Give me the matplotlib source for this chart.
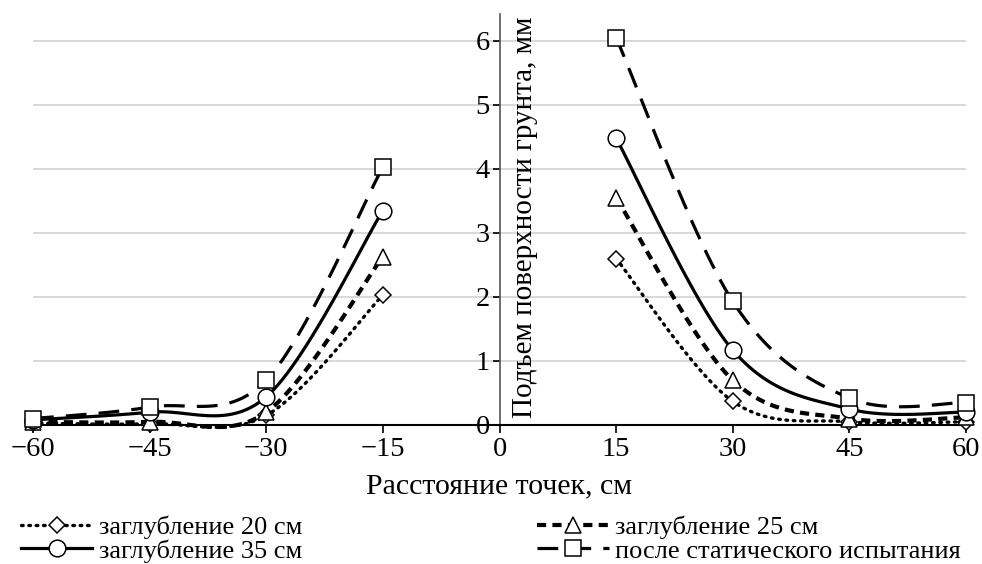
import numpy as np
import matplotlib
matplotlib.use("Agg")
import matplotlib.pyplot as plt

plt.rcParams['font.family'] = ['Liberation Serif', 'DejaVu Serif']

x_left = [-60, -45, -30, -15]
x_right = [15, 30, 45, 60]

d20_left = [0.03, 0.02, 0.15, 2.03]
d20_right = [2.6, 0.37, 0.05, 0.05]
d25_left = [0.05, 0.05, 0.2, 2.63]
d25_right = [3.55, 0.7, 0.1, 0.12]
d35_left = [0.08, 0.2, 0.44, 3.35]
d35_right = [4.48, 1.17, 0.25, 0.2]
st_left = [0.1, 0.28, 0.7, 4.03]
st_right = [6.05, 1.93, 0.42, 0.35]

labels = ['заглубление 20 см', 'заглубление 25 см',
          'заглубление 35 см', 'после статического испытания']
xticks = [-60, -45, -30, -15, 0, 15, 30, 45, 60]
yticks = [0, 1, 2, 3, 4, 5, 6]

K = 30  # points per segment of the smoothed line


def smooth(xs, ys):
    # Excel-like smoothed line: cubic Bezier through the points
    p = np.column_stack([xs, ys]).astype(float)
    ext = np.vstack([p[0], p, p[-1]])
    t = np.linspace(0, 1, K, endpoint=False)[:, None]
    out = []
    for i in range(len(p) - 1):
        p0, p3 = p[i], p[i + 1]
        p1 = p0 + (ext[i + 2] - ext[i]) / 6
        p2 = p3 - (ext[i + 3] - ext[i + 1]) / 6
        out.append((1 - t) ** 3 * p0 + 3 * (1 - t) ** 2 * t * p1
                   + 3 * (1 - t) * t ** 2 * p2 + t ** 3 * p3)
    out.append(p[-1][None, :])
    out = np.vstack(out)
    return out[:, 0], out[:, 1]


styles = [
    dict(ls=(0, (0.5, 1.7)), lw=2.4, marker='D', ms=8.5, cap='round'),
    dict(ls=(0, (2.2, 1.5)), lw=3.0, marker='^', ms=11.5, cap='butt'),
    dict(ls='-', lw=2.3, marker='o', ms=12, cap='butt'),
    dict(ls=(0, (6.5, 3.8)), lw=2.3, marker='s', ms=11.5, cap='butt'),
]
series = [(d20_left, d20_right), (d25_left, d25_right),
          (d35_left, d35_right), (st_left, st_right)]

fig = plt.figure(figsize=(9.82, 5.64), dpi=100)
ax = fig.add_axes([33 / 982, 1 - 425 / 564, 933 / 982, 411 / 564])

handles = []
for (yl, yr), st, lab in zip(series, styles, labels):
    for j, (xs, ys) in enumerate([(x_left, yl), (x_right, yr)]):
        sx, sy = smooth(xs, ys)
        h, = ax.plot(sx, sy, color='black', linestyle=st['ls'], linewidth=st['lw'],
                     marker=st['marker'], markersize=st['ms'], markevery=K,
                     markerfacecolor='white', markeredgecolor='black',
                     markeredgewidth=1.1, clip_on=False, zorder=3,
                     dash_capstyle=st['cap'],
                     label=lab if j == 0 else None)
        if j == 0:
            handles.append(h)

ax.set_xlim(-60, 60)
ax.set_ylim(0, 6.42)
ax.set_xticks(xticks)
ax.set_xticklabels([str(v).replace('-', '\u2212') for v in xticks])
ax.set_yticks(yticks)
for v in yticks[1:]:
    ax.axhline(v, color='#d9d9d9', lw=1.5, zorder=0)

ax.spines['top'].set_visible(False)
ax.spines['right'].set_visible(False)
ax.spines['left'].set_position(('data', 0))
ax.spines['left'].set_color('#555555')
ax.spines['left'].set_linewidth(1.2)
ax.spines['bottom'].set_linewidth(1.5)
ax.tick_params(axis='x', direction='out', length=6, width=1.2, labelsize=20.5, pad=3)
ax.tick_params(axis='y', direction='out', length=5, width=1.2, labelsize=20.5, pad=2)

ax.set_xlabel('Расстояние точек, см', fontsize=21.5, labelpad=8)
ax.text(0.527, 0.505, 'Подъем поверхности грунта, мм', rotation=90,
        ha='center', va='center', fontsize=21, transform=ax.transAxes)

order = [handles[0], handles[2], handles[1], handles[3]]
fig.legend(order, [h.get_label() for h in order], ncol=2, mode='expand',
           loc='lower left', bbox_to_anchor=(0.02, 0.0, 0.96, 0.15),
           frameon=False, fontsize=19, handlelength=2.7, handletextpad=0.25,
           numpoints=1, labelspacing=0.0, borderaxespad=0.0, borderpad=0.05)

fig.savefig('out.png', dpi=100)
